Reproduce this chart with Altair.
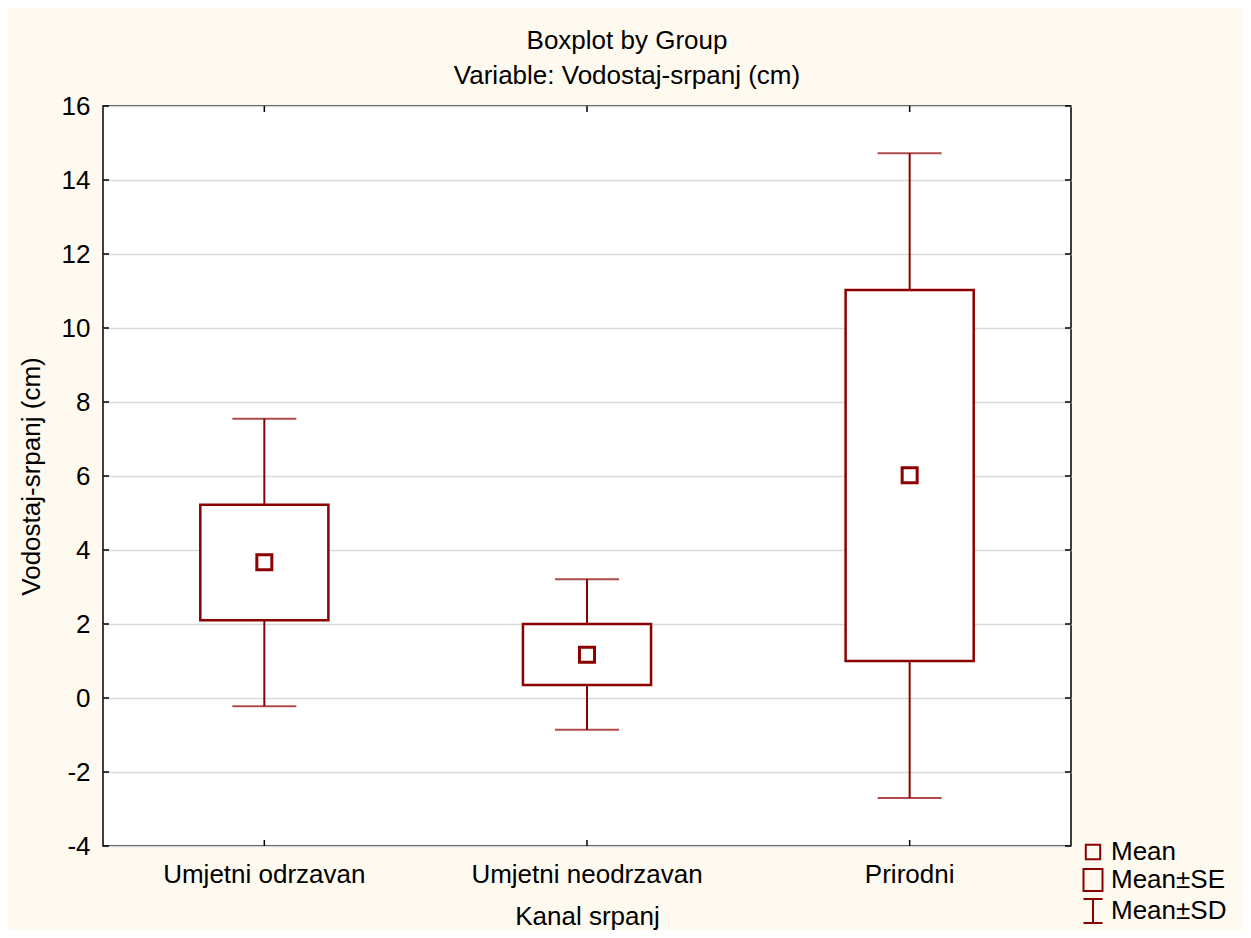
import altair as alt
import pandas as pd

groups = ["Umjetni odrzavan", "Umjetni neodrzavan", "Prirodni"]
means = [3.67, 1.17, 6.02]
se_low = [2.10, 0.35, 1.00]
se_high = [5.22, 2.00, 11.03]
sd_low = [-0.22, -0.86, -2.70]
sd_high = [7.55, 3.21, 14.72]
y_ticks = [-4, -2, 0, 2, 4, 6, 8, 10, 12, 14, 16]
legend_items = ["Mean", "Mean±SE", "Mean±SD"]

RED = "#8B0000"
FONT = "Liberation Sans"
FS = 26
W, H = 968, 740
TICK = 6

df = pd.DataFrame({"group": groups, "mean": means, "se_low": se_low,
                   "se_high": se_high, "sd_low": sd_low, "sd_high": sd_high})
tick_df = pd.DataFrame({"v": y_ticks})
leg_df = pd.DataFrame({"item": legend_items})

xscale = alt.Scale(domain=groups, paddingInner=0, paddingOuter=0)
yscale = alt.Scale(domain=[-4, 16], nice=False, zero=False)

x_enc = alt.X("group:N", scale=xscale, sort=groups,
              axis=alt.Axis(title="Kanal srpanj", labelAngle=0, ticks=False, domain=False,
                            labelPadding=15, titlePadding=16, labelFontSize=FS,
                            titleFontSize=FS, titleFontWeight="normal", labelColor="black",
                            titleColor="black", labelFont=FONT, titleFont=FONT,
                            labelLimit=0))
y_axis = alt.Axis(title="Vodostaj-srpanj (cm)", values=y_ticks, ticks=False, domain=False,
                  grid=True, gridColor="#D9D9D9", gridWidth=1.5, labelPadding=13,
                  titlePadding=17, labelFontSize=FS, titleFontSize=FS,
                  titleFontWeight="normal", labelColor="black", titleColor="black",
                  labelFont=FONT, titleFont=FONT, labelExpr="'' + datum.value")

base = alt.Chart(df)

whisker = base.mark_rule(color=RED, strokeWidth=2).encode(
    x=x_enc, y=alt.Y("sd_low:Q", scale=yscale, axis=y_axis), y2="sd_high:Q")
cap_low = base.mark_tick(color=RED, size=64, thickness=2, orient="horizontal").encode(
    x=alt.X("group:N", scale=xscale, sort=groups), y=alt.Y("sd_low:Q", scale=yscale))
cap_high = base.mark_tick(color=RED, size=64, thickness=2, orient="horizontal").encode(
    x=alt.X("group:N", scale=xscale, sort=groups), y=alt.Y("sd_high:Q", scale=yscale))
box = base.mark_bar(fill="white", stroke=RED, strokeWidth=2.5,
                    width=alt.RelativeBandSize(0.397)).encode(
    x=alt.X("group:N", scale=xscale, sort=groups),
    y=alt.Y("se_low:Q", scale=yscale), y2="se_high:Q")
mean_pt = base.mark_point(shape="square", size=225, filled=False, color=RED,
                          strokeWidth=3, opacity=1).encode(
    x=alt.X("group:N", scale=xscale, sort=groups), y=alt.Y("mean:Q", scale=yscale))

tb = alt.Chart(tick_df)
left_ticks = tb.mark_rule(color="black", strokeWidth=1.5).encode(
    y=alt.Y("v:Q", scale=yscale), x=alt.value(0), x2=alt.value(TICK))
right_ticks = tb.mark_rule(color="black", strokeWidth=1.5).encode(
    y=alt.Y("v:Q", scale=yscale), x=alt.value(W - TICK), x2=alt.value(W))
top_ticks = base.mark_rule(color="black", strokeWidth=1.5).encode(
    x=alt.X("group:N", scale=xscale, sort=groups), y=alt.value(0), y2=alt.value(TICK))
bot_ticks = base.mark_rule(color="black", strokeWidth=1.5).encode(
    x=alt.X("group:N", scale=xscale, sort=groups), y=alt.value(H - TICK), y2=alt.value(H))

p_mean = "M-0.72,-0.72H0.72V0.72H-0.72Z"
p_se = "M-0.95,-1.1H0.95V1.1H-0.95Z"
p_sd = "M-0.95,-1.2H0.95M0,-1.2V1.2M-0.95,1.2H0.95"

legend_layer = alt.Chart(leg_df).mark_point(color=RED, filled=False, opacity=0).encode(
    x=alt.value(0), y=alt.value(0),
    shape=alt.Shape("item:N", sort=legend_items,
                    scale=alt.Scale(domain=legend_items, range=[p_mean, p_se, p_sd]),
                    legend=alt.Legend(title=None, orient="none", legendX=977, legendY=733,
                                      symbolSize=400, symbolOpacity=1,
                                      symbolStrokeColor=RED, symbolFillColor="transparent",
                                      symbolStrokeWidth=2, labelFontSize=FS, labelFont=FONT,
                                      labelColor="black", labelOffset=5, rowPadding=0,
                                      padding=0)))

chart = alt.layer(whisker, cap_low, cap_high, box, mean_pt,
                  left_ticks, right_ticks, top_ticks, bot_ticks, legend_layer).properties(
    width=W, height=H,
    title=alt.Title(["Boxplot by Group", "Variable: Vodostaj-srpanj (cm)"],
                    fontSize=FS, font=FONT, fontWeight="normal", color="black",
                    anchor="middle", dx=40, offset=4, lineHeight=35),
    background="#FFFAF0",
    autosize=alt.AutoSizeParams(type="none"),
    padding={"left": 95, "top": 98, "right": 172, "bottom": 84},
).configure_view(stroke="black", strokeWidth=1.5, fill="white")

chart.save("out.html", embed_options={"renderer": "svg", "actions": False})
